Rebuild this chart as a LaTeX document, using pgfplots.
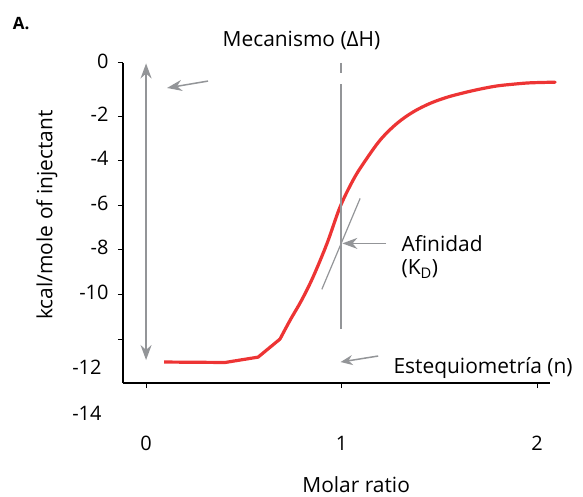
\documentclass[border=0pt]{standalone}
\usepackage{fontspec}
\setmainfont{Open Sans}
\usepackage{pgfplots}
\pgfplotsset{compat=1.18}
\usetikzlibrary{arrows.meta}
\definecolor{curvered}{RGB}{237,52,52}
\definecolor{anngray}{RGB}{147,149,152}
\begin{document}
\begin{tikzpicture}
\begin{axis}[
  scale only axis, width=427bp, height=320bp,
  xmin=-0.118, xmax=2.066, ymin=-13.97, ymax=0.38,
  axis x line=bottom, axis y line=left,
  axis line style={-, line width=1.3bp, black},
  tick align=outside, major tick length=5bp,
  tick style={line width=1bp, black},
  xtick={0,1,2},
  ytick={0.38,-2,-4,-6,-8,-10,-12},
  yticklabels={0,-2,-4,-6,-8,-10,{}},
  /pgf/number format/assume math mode=true,
  ticklabel style={font=\fontsize{20}{24}\selectfont},
  xticklabel style={yshift=-45bp},
  yticklabel style={xshift=-6bp, yshift=2bp},
  xlabel={Molar ratio},
  xlabel style={at={(axis description cs:0.546,-0.318)}, anchor=center, font=\fontsize{21}{25}\selectfont},
  ylabel={kcal/mole of injectant},
  ylabel style={at={(axis description cs:-0.178,0.525)}, anchor=center, font=\fontsize{21}{25}\selectfont},
  clip=false,
]
\addplot[curvered, line width=3.2bp, line join=round] coordinates {
 (0.092,-13.03) (0.404,-13.05) (0.573,-12.81) (0.685,-12.00)
};
\addplot[curvered, line width=3.2bp, smooth, tension=0.55, line cap=round] coordinates {
 (0.685,-12.00) (0.737,-11.15)
 (0.796,-10.25) (0.854,-9.22) (0.926,-7.70) (0.992,-6.08) (1.059,-4.87)
 (1.112,-4.12) (1.197,-3.08) (1.283,-2.33) (1.367,-1.81) (1.453,-1.43)
 (1.538,-1.16) (1.623,-0.96) (1.708,-0.79) (1.794,-0.65) (1.879,-0.57)
 (1.964,-0.51) (2.092,-0.48)
};
% annotations
\draw[anngray, line width=1.5bp, {Stealth[length=15bp,width=11bp]}-{Stealth[length=15bp,width=11bp]}]
  (axis cs:0,0.36) -- (axis cs:0,-12.94);
\draw[anngray, line width=1.5bp, -{Stealth[length=15bp,width=11bp]}]
  (axis cs:0.317,-0.43) -- (axis cs:0.107,-0.74);
\draw[anngray, line width=1.5bp] (axis cs:0.997,0.38) -- (axis cs:0.997,-0.07);
\draw[anngray, line width=1.5bp] (axis cs:0.997,-0.57) -- (axis cs:0.997,-11.55);
\draw[anngray, line width=1.2bp] (axis cs:0.899,-9.77) -- (axis cs:1.095,-5.69);
\draw[anngray, line width=1.5bp, -{Stealth[length=15bp,width=11bp]}]
  (axis cs:1.228,-7.71) -- (axis cs:1.004,-7.71);
\draw[anngray, line width=1.5bp, -{Stealth[length=12bp,width=10bp]}]
  (axis cs:1.187,-12.76) -- (axis cs:0.995,-13.03);
% texts
\node[font=\fontsize{21}{25}\selectfont] at (axis cs:0.795,1.41) {Mecanismo (ΔH)};
\node[font=\fontsize{17}{20}\selectfont\bfseries] at (axis cs:-0.639,2.17) {A.};
\node[anchor=west, font=\fontsize{21}{25}\selectfont] at (axis cs:1.289,-7.70) {Afinidad};
\node[anchor=west, font=\fontsize{21}{25}\selectfont] at (axis cs:1.289,-8.86) {(K\textsubscript{D})};
\node[anchor=west, font=\fontsize{21}{25}\selectfont] at (axis cs:1.248,-13.30) {Estequiometría (n)};
\node[anchor=east, font=\fontsize{20}{24}\selectfont] at ([xshift=-18bp]axis cs:-0.118,-13.27) {-12};
\node[anchor=east, font=\fontsize{20}{24}\selectfont] at ([xshift=-18bp]axis cs:-0.118,-15.32) {-14};
\end{axis}
\pgfresetboundingbox
\path ([xshift=-123bp,yshift=-114bp]current axis.south west) rectangle ([xshift=33bp,yshift=63bp]current axis.north east);
\end{tikzpicture}
\end{document}
